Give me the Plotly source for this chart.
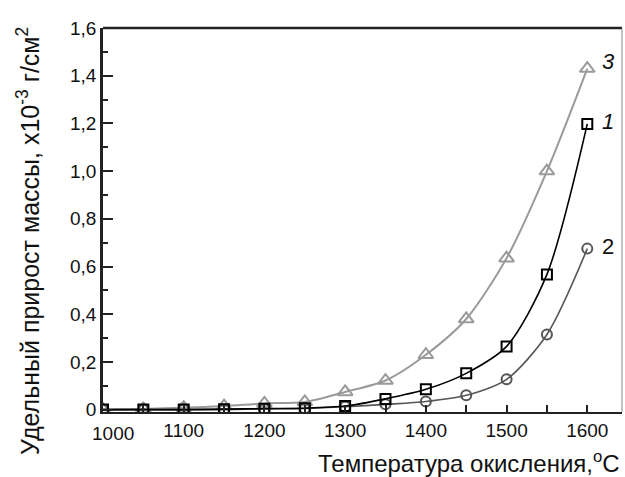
import plotly.graph_objects as go

temps = [1000, 1050, 1100, 1150, 1200, 1250, 1300, 1350, 1400, 1450, 1500, 1550, 1600]
series1 = [0.0, 0.0, 0.0, 0.002, 0.004, 0.006, 0.015, 0.045, 0.085, 0.152, 0.265, 0.567, 1.198]
series2 = [0.0, 0.0, 0.0, 0.0, 0.003, 0.005, 0.012, 0.022, 0.034, 0.06, 0.127, 0.315, 0.675]
series3 = [0.0, 0.003, 0.008, 0.015, 0.026, 0.032, 0.074, 0.122, 0.23, 0.38, 0.635, 1.0, 1.43]

x_tickvals = [1000, 1050, 1100, 1150, 1200, 1250, 1300, 1350, 1400, 1450, 1500, 1550, 1600]
x_ticktext = ["", "", "1100", "", "1200", "", "1300", "", "1400", "", "1500", "", "1600"]
y_tickvals = [0, 0.2, 0.4, 0.6, 0.8, 1.0, 1.2, 1.4, 1.6]
y_ticktext = ["0", "0,2", "0,4", "0,6", "0,8", "1,0", "1,2", "1,4", "1,6"]

FONT = "Liberation Sans, Arial, sans-serif"
PLOT_H = 477 - 28 - 65  # 384
PLOT_W = 625 - 103 - 3  # 519

fig = go.Figure()
fig.add_trace(go.Scatter(x=temps, y=series3, mode="lines+markers", line=dict(color="#9a9a9a", width=2, shape="spline", smoothing=0.8),
                         marker=dict(symbol="triangle-up-open", size=13, color="#9a9a9a", line=dict(width=2))))
fig.add_trace(go.Scatter(x=temps, y=series2, mode="lines+markers", line=dict(color="#555555", width=1.6, shape="spline", smoothing=0.8),
                         marker=dict(symbol="circle-open", size=10, color="#555555", line=dict(width=2))))
fig.add_trace(go.Scatter(x=temps, y=series1, mode="lines+markers", line=dict(color="#000000", width=1.6, shape="spline", smoothing=0.8),
                         marker=dict(symbol="square-open", size=10, color="#000000", line=dict(width=2))))

fig.update_layout(
    width=625, height=477,
    margin=dict(l=103, r=3, t=28, b=65),
    paper_bgcolor="white", plot_bgcolor="white",
    showlegend=False,
    font=dict(family=FONT, size=19, color="#111111"),
    xaxis=dict(range=[1000, 1643], tickvals=x_tickvals, ticktext=x_ticktext,
               ticks="inside", ticklen=7, tickwidth=1.5, tickcolor="#222",
               showline=True, linecolor="#222", linewidth=1.5, showgrid=False, zeroline=False,
               tickfont=dict(size=19)),
    yaxis=dict(range=[-0.01, 1.6], tickvals=y_tickvals, ticktext=y_ticktext,
               ticks="inside", ticklen=10, tickwidth=2, tickcolor="#222",
               minor=dict(ticks="inside", ticklen=5, tickwidth=2, tickcolor="#222", dtick=0.1, showgrid=False),
               showline=True, linecolor="#222", linewidth=2.5, showgrid=False, zeroline=False,
               tickfont=dict(size=19)),
    shapes=[
        dict(type="line", xref="paper", yref="paper", x0=0, x1=1, y0=1, y1=1, line=dict(color="#222", width=2.5)),
        dict(type="line", xref="paper", yref="paper", x0=1, x1=1, y0=0, y1=1, line=dict(color="#888", width=1)),
    ],
    annotations=[
        dict(text="1000", xref="paper", yref="paper", x=10 / PLOT_W, y=-(433 - 412) / PLOT_H, showarrow=False,
             xanchor="center", yanchor="middle", font=dict(size=19)),
        dict(text="Температура окисления,<sup>o</sup>C", xref="paper", yref="paper", x=1.0, y=-(462 - 412) / PLOT_H,
             xanchor="right", yanchor="middle", showarrow=False, font=dict(size=24)),
        dict(text="Удельный прирост массы, x10<sup>-3</sup> г/см<sup>2</sup>", xref="paper", yref="paper",
             x=(28 - 103) / PLOT_W, y=(412 - 241) / PLOT_H, textangle=-90, showarrow=False,
             xanchor="center", yanchor="middle", font=dict(size=25)),
        dict(text="<i>3</i>", x=1626, y=1.46, showarrow=False, font=dict(size=22)),
        dict(text="<i>1</i>", x=1626, y=1.21, showarrow=False, font=dict(size=22)),
        dict(text="2", x=1626, y=0.685, showarrow=False, font=dict(size=22)),
    ],
)

fig.write_html("out.html")
